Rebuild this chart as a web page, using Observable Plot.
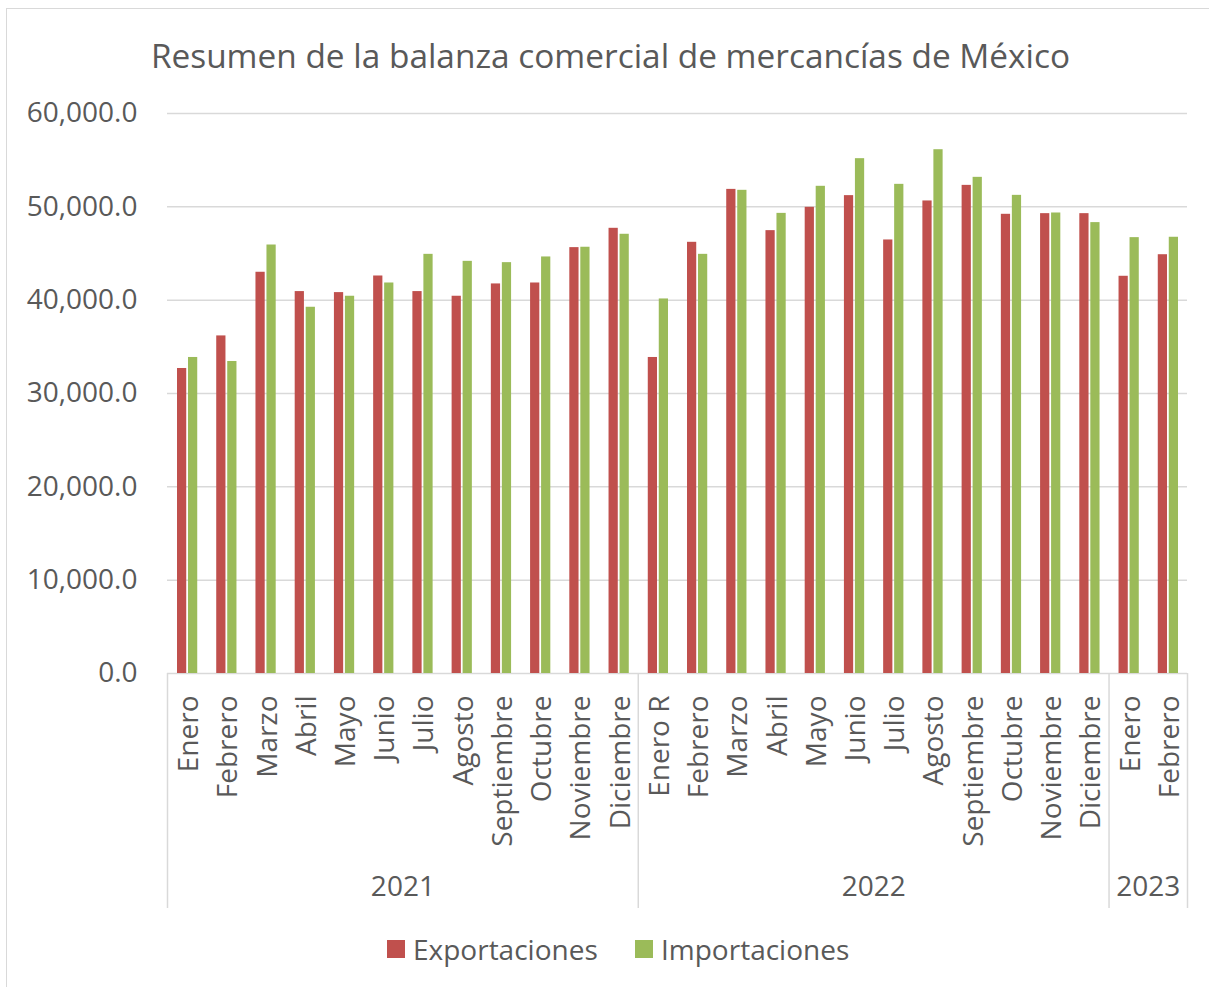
<!DOCTYPE html>
<html>
<head>
<meta charset="utf-8">
<script src="https://cdn.jsdelivr.net/npm/d3@7"></script>
<script src="https://cdn.jsdelivr.net/npm/@observablehq/plot@0.6"></script>
<style>
  html, body { margin: 0; padding: 0; background: #fff; overflow: hidden; }
  #wrap { position: relative; width: 1209px; height: 987px; overflow: hidden; font-family: "Open Sans", sans-serif; color: #595959; }
  #frame { position: absolute; left: 6px; top: 8px; width: 1400px; height: 1200px; border-left: 1.5px solid #d9d9d9; border-top: 1.5px solid #d9d9d9; }
  #title { position: absolute; left: 0; top: 31px; width: 1221px; text-align: center; font-size: 33.4px; line-height: 48px; white-space: nowrap; }
  #chart { position: absolute; left: 0; top: 0; }
  .leg { position: absolute; top: 929px; height: 40px; display: flex; align-items: center; font-size: 28px; }
  .sw { width: 18px; height: 18px; margin-right: 8px; }
</style>
</head>
<body>
<div id="wrap">
  <div id="frame"></div>
  <div id="chart"></div>
  <div id="title">Resumen de la balanza comercial de mercancías de México</div>
  <div id="legend"></div>
</div>
<script>
// ---- Data ----
const years = ["2021","2021","2021","2021","2021","2021","2021","2021","2021","2021","2021","2021",
               "2022","2022","2022","2022","2022","2022","2022","2022","2022","2022","2022","2022",
               "2023","2023"];
const months = ["Enero","Febrero","Marzo","Abril","Mayo","Junio","Julio","Agosto","Septiembre","Octubre","Noviembre","Diciembre",
                "Enero R","Febrero","Marzo","Abril","Mayo","Junio","Julio","Agosto","Septiembre","Octubre","Noviembre","Diciembre",
                "Enero","Febrero"];
const exportaciones = [32680, 36170, 42990, 40920, 40810, 42590, 40920, 40420, 41740, 41840, 45630, 47700,
                       33860, 46200, 51870, 47450, 49950, 51200, 46450, 50630, 52300, 49200, 49270, 49270,
                       42560, 44870];
const importaciones = [33860, 33430, 45910, 39240, 40420, 41840, 44910, 44160, 44020, 44630, 45670, 47060,
                       40130, 44910, 51770, 49300, 52200, 55160, 52410, 56120, 53160, 51230, 49340, 48310,
                       46700, 46740];
const yTicks = [0, 10000, 20000, 30000, 40000, 50000, 60000];
const seriesNames = ["Exportaciones", "Importaciones"];
const seriesColors = ["#C0504D", "#9BBB59"];

// ---- Derived tables ----
const keys = months.map((m, i) => years[i] + "|" + i);
const rows = keys.map((k, i) => ({key: k, year: years[i], month: months[i], exp: exportaciones[i], imp: importaciones[i]}));
const yearList = [...new Set(years)];
const groups = yearList.map(y => {
  const idx = years.map((v, i) => v === y ? i : -1).filter(i => i >= 0);
  return {year: y, first: keys[idx[0]], last: keys[idx[idx.length - 1]], n: idx.length,
          mid: keys[idx[Math.floor(idx.length / 2) - 1]]};
});

const W = 1209, H = 920, ML = 167, MR = 22, MT = 113, MB = 247;
const step = (W - ML - MR) / keys.length;
const textColor = "#595959";
const gridColor = "#d9d9d9";

const chart = Plot.plot({
  width: W,
  height: H,
  marginLeft: ML,
  marginRight: MR,
  marginTop: MT,
  marginBottom: MB,
  style: {fontFamily: "'Open Sans', sans-serif", color: textColor, background: "transparent", overflow: "visible"},
  x: {domain: keys, padding: 0, round: false, axis: null},
  y: {domain: [0, 60000], ticks: yTicks, tickFormat: d3.format(",.1f"), tickSize: 0, tickPadding: 30, label: null, fontSize: 28},
  marks: [
    Plot.gridY(yTicks, {stroke: gridColor, strokeOpacity: 1, strokeWidth: 1.5}),
    Plot.axisY(yTicks, {tickFormat: d3.format(",.1f"), tickSize: 0, tickPadding: 30, label: null, fontSize: 28, fill: textColor}),
    Plot.barY(rows, {x: "key", y: "exp", fill: seriesColors[0], insetLeft: 10, insetRight: 20}),
    Plot.barY(rows, {x: "key", y: "imp", fill: seriesColors[1], insetLeft: 21, insetRight: 9}),
    // group separators on the category axis
    Plot.ruleX(groups, {x: "first", dx: -step / 2, y1: 0, y2: 0, insetBottom: -235, stroke: gridColor, strokeWidth: 1.5}),
    Plot.ruleX(groups.slice(-1), {x: "last", dx: step / 2, y1: 0, y2: 0, insetBottom: -235, stroke: gridColor, strokeWidth: 1.5}),
    // month labels
    Plot.text(rows, {x: "key", text: "month", frameAnchor: "bottom", dy: 22, dx: 2, rotate: -90, textAnchor: "end", lineAnchor: "middle", fontSize: 28, fill: textColor}),
    // year labels
    Plot.text(groups, {x: "mid", text: "year", frameAnchor: "bottom", dx: step / 2, dy: 214, lineAnchor: "middle", fontSize: 28, fill: textColor})
  ]
});
document.getElementById("chart").appendChild(chart);

// legend
const legend = document.getElementById("legend");
const legLeft = [387, 635];
seriesNames.forEach((name, i) => {
  const item = document.createElement("div");
  item.className = "leg";
  item.style.left = legLeft[i] + "px";
  const sw = document.createElement("div");
  sw.className = "sw";
  sw.style.background = seriesColors[i];
  const t = document.createElement("span");
  t.textContent = name;
  item.appendChild(sw);
  item.appendChild(t);
  legend.appendChild(item);
});
</script>
</body>
</html>
